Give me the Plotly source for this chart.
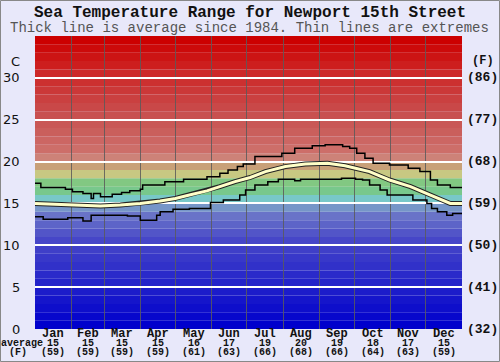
import plotly.graph_objects as go

# ---------------- data ----------------
months = ["Jan", "Feb", "Mar", "Apr", "May", "Jun", "Jul", "Aug", "Sep", "Oct", "Nov", "Dec"]
month_days = [31, 28, 31, 30, 31, 30, 31, 31, 30, 31, 30, 31]
avg_c = [15, 15, 15, 15, 16, 17, 19, 20, 19, 18, 17, 15]
avg_f = [59, 59, 59, 59, 61, 63, 66, 68, 66, 64, 63, 59]

c_ticks = [0, 5, 10, 15, 20, 25, 30]
f_ticks = [32, 41, 50, 59, 68, 77, 86]

max_day = [0, 5, 26, 32, 41, 48, 50, 56, 66, 74, 81, 90, 92, 111, 127, 147, 158, 165, 173, 178,
           188, 211, 222, 237, 248, 263, 269, 275, 282, 289, 303, 319, 329, 338, 344, 355, 365]
max_val = [17.4, 16.9, 16.7, 16.4, 16.2, 15.6, 16.2, 15.8, 16.1, 16.3, 16.5, 16.7, 17.2, 17.6, 17.9,
           18.2, 18.6, 19.0, 19.4, 19.7, 20.6, 21.0, 21.6, 21.9, 22.0, 21.8, 21.6, 21.0, 20.4, 19.8,
           19.6, 19.2, 18.8, 17.8, 17.2, 16.9, 16.9]

avg_day = [0, 21, 38, 56, 73, 90, 107, 120, 132, 147, 158, 171, 184, 197, 214, 231, 250, 265, 274,
           286, 303, 321, 338, 350, 355, 365]
avg_val = [15.0, 14.9, 14.8, 14.7, 14.8, 15.0, 15.3, 15.6, 16.0, 16.5, 17.0, 17.6, 18.1, 18.8, 19.4,
           19.7, 19.8, 19.5, 19.2, 18.8, 17.8, 17.0, 16.0, 15.3, 15.0, 15.0]

min_day = [0, 7, 28, 41, 48, 79, 90, 104, 107, 118, 132, 150, 161, 175, 180, 188, 199, 208, 222, 227,
           262, 274, 280, 286, 295, 301, 323, 335, 339, 344, 352, 357, 365]
min_val = [13.4, 13.1, 13.3, 12.9, 13.6, 13.5, 13.0, 13.6, 14.0, 14.3, 14.4, 15.1, 15.4, 16.0, 16.6,
           17.2, 17.6, 17.9, 17.7, 17.9, 18.0, 17.9, 17.8, 17.2, 16.6, 16.0, 15.4, 15.0, 14.4, 14.0,
           13.6, 13.8, 13.8]

# ---------------- styling helpers ----------------
YMAX = 35
keys = [(0, (0, 0, 204)), (10, (70, 70, 200)), (13, (105, 115, 200)), (14, (118, 150, 200)),
        (15, (120, 200, 200)), (16, (120, 200, 140)), (17, (130, 200, 130)), (18, (200, 200, 130)),
        (19, (200, 160, 120)), (20, (205, 130, 120)), (21, (205, 110, 105)), (25, (200, 80, 80)),
        (30, (205, 40, 40)), (34, (204, 0, 0))]


def band_color(k):
    for (a, ca), (b, cb) in zip(keys[:-1], keys[1:]):
        if a <= k <= b:
            t = (k - a) / (b - a) if b > a else 0
            c = [round(ca[i] + (cb[i] - ca[i]) * t) for i in range(3)]
            return f"rgb({c[0]},{c[1]},{c[2]})"
    return "rgb(204,0,0)"


bounds = []
acc = 0
for d in month_days[:-1]:
    acc += d
    bounds.append(acc)
centers = []
acc = 0
for d in month_days:
    centers.append(acc + d / 2)
    acc += d

fig = go.Figure()

# extremes
fig.add_trace(go.Scatter(x=max_day, y=max_val, mode="lines", line=dict(color="black", width=1.5, shape="hv"),
                         hoverinfo="skip"))
fig.add_trace(go.Scatter(x=min_day, y=min_val, mode="lines", line=dict(color="black", width=1.5, shape="hv"),
                         hoverinfo="skip"))
# average (outlined)
fig.add_trace(go.Scatter(x=avg_day, y=avg_val, mode="lines", line=dict(color="#222222", width=5),
                         hoverinfo="skip"))
fig.add_trace(go.Scatter(x=avg_day, y=avg_val, mode="lines", line=dict(color="#FFFFC8", width=3),
                         hoverinfo="skip"))

shapes = []
for k in range(YMAX):
    shapes.append(dict(type="rect", xref="x", yref="y", x0=0, x1=365, y0=k, y1=k + 1,
                       fillcolor=band_color(k), line=dict(width=0), layer="below"))
# outer border
W, H = 500, 362
L, R, T, B = 35, 38, 36, 33
pw, ph = W - L - R, H - T - B
shapes.append(dict(type="rect", xref="paper", yref="paper",
                   x0=(-L + 0.5) / pw, x1=(pw + R - 0.5) / pw, y0=(-B + 0.5) / ph, y1=(ph + T - 0.5) / ph,
                   line=dict(color="#888888", width=1), fillcolor="rgba(0,0,0,0)", layer="below"))

ann = []
mono = "Liberation Mono, Courier New, monospace"
ann.append(dict(text="<b>Sea Temperature Range for Newport 15th Street</b>", xref="paper", yref="paper",
                x=(250 - L) / pw, y=(ph + T - 13) / ph, xanchor="center", yanchor="middle", showarrow=False,
                font=dict(family=mono, size=16, color="#111")))
ann.append(dict(text="Thick line is average since 1984. Thin lines are extremes", xref="paper", yref="paper",
                x=(249 - L) / pw, y=(ph + T - 28) / ph, xanchor="center", yanchor="middle", showarrow=False,
                font=dict(family=mono, size=14, color="#555")))
for c, f in zip(c_ticks, f_ticks):
    ann.append(dict(text=str(c), xref="paper", yref="y", x=-13 / pw, y=c, xanchor="right", yanchor="middle",
                    showarrow=False, font=dict(family="DejaVu Sans, Verdana, sans-serif", size=13, color="#111")))
    ann.append(dict(text=f"<b>({f})</b>", xref="paper", yref="y", x=(pw + 3) / pw, y=c, xanchor="left",
                    yanchor="middle", showarrow=False, font=dict(family=mono, size=13, color="#111")))
ann.append(dict(text="C", xref="paper", yref="y", x=-13 / pw, y=32, xanchor="right", yanchor="middle",
                showarrow=False, font=dict(family="DejaVu Sans, Verdana, sans-serif", size=13, color="#111")))
ann.append(dict(text="<b>(F)</b>", xref="paper", yref="y", x=(pw + 8) / pw, y=32, xanchor="left",
                yanchor="middle", showarrow=False, font=dict(family=mono, size=12, color="#111")))
for m, cx, a, f in zip(months, centers, avg_c, avg_f):
    ann.append(dict(text=f"<b>{m}</b>", xref="x", yref="paper", x=cx, y=-5 / ph, xanchor="center",
                    yanchor="middle", showarrow=False, font=dict(family=mono, size=12, color="#111")))
    ann.append(dict(text=f"<b>{a}</b>", xref="x", yref="paper", x=cx, y=-14 / ph, xanchor="center",
                    yanchor="middle", showarrow=False, font=dict(family=mono, size=10, color="#111")))
    ann.append(dict(text=f"<b>({f})</b>", xref="x", yref="paper", x=cx, y=-23.5 / ph, xanchor="center",
                    yanchor="middle", showarrow=False, font=dict(family=mono, size=10, color="#111")))
ann.append(dict(text="<b>average</b>", xref="paper", yref="paper", x=-13 / pw, y=-14 / ph, xanchor="center",
                yanchor="middle", showarrow=False, font=dict(family=mono, size=10, color="#111")))
ann.append(dict(text="<b>(F)</b>", xref="paper", yref="paper", x=-17 / pw, y=-23.5 / ph, xanchor="center",
                yanchor="middle", showarrow=False, font=dict(family=mono, size=10, color="#111")))

fig.update_layout(
    width=W, height=H, margin=dict(l=L, r=R, t=T, b=B, pad=0),
    paper_bgcolor="#E8E8FA", plot_bgcolor="#E8E8FA", showlegend=False,
    shapes=shapes, annotations=ann,
    xaxis=dict(range=[0, 365], tickvals=bounds, showticklabels=False, ticks="", showgrid=True,
               gridcolor="rgba(90,90,90,0.85)", gridwidth=1, zeroline=False, showline=False, fixedrange=True),
    yaxis=dict(range=[0, YMAX], tickvals=c_ticks[1:], showticklabels=False, ticks="", showgrid=True,
               gridcolor="white", gridwidth=2, zeroline=False, showline=False, fixedrange=True),
)

fig.write_html("out.html", config={"displayModeBar": False},
               post_script="document.body.style.margin='0';document.body.style.padding='0';"
                           "document.body.style.overflow='hidden';")
